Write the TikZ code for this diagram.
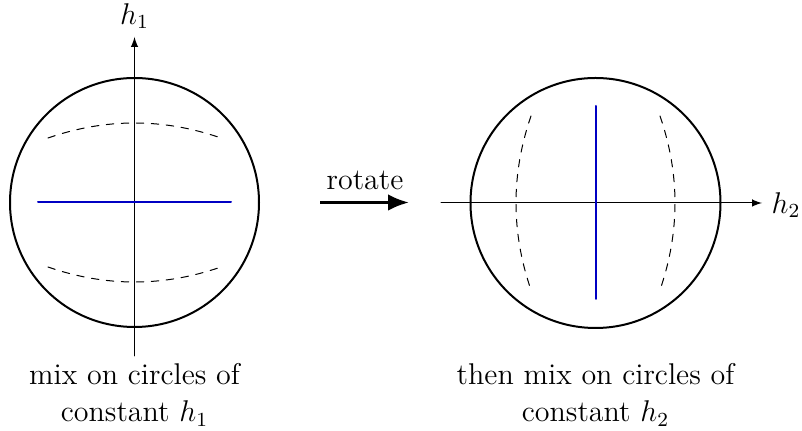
\documentclass[tikz,border=0pt]{standalone}
\usetikzlibrary{arrows.meta}
\definecolor{slicecol}{RGB}{0,0,195}
\begin{document}
\begin{tikzpicture}[x=0.4pt,y=-0.4pt,line width=.4pt,>=latex,
 line cap=round,line join=round,font=\fontsize{12}{14.8}\selectfont,
 ball/.style={line width=.8pt},
 slice/.style={line width=.8pt,draw=slicecol},
 orbit/.style={dash pattern=on 3pt off 3pt},
 caption/.style={align=center,inner sep=0pt}]
\useasboundingbox (0,0) rectangle (802,431);
% left: sphere seen along h2, slice at h1 = 0
\coordinate (L) at (134.5,202.5);
\draw[ball] (L) circle[radius=124.5];
\coordinate (h1bot) at (134.5,356);
\coordinate (h1top) at (134.5,37);
\draw[->] (h1bot) -- (h1top);
\node (h1lab) at (134.5,16) {$h_1$};
\draw[orbit] (48,138) .. controls (105.7,118) and (163.3,118) .. (221,138);
\draw[orbit] (48,267) .. controls (105.7,287) and (163.3,287) .. (221,267);
\coordinate (Lw) at (38,202.5);
\coordinate (Le) at (231,202.5);
\draw[slice] (Lw) -- (Le);
\node[caption] (Lcap) at (134.5,395) {mix on circles of\\ constant $h_1$};
% middle: rotate arrow
\coordinate (rotA) at (320,202.5);
\coordinate (rotB) at (409,202.5);
\draw[-{Latex[length=8.4pt,width=6.7pt]},line width=1.3pt,line cap=butt] (rotA) -- (rotB);
\node (rotlab) at (365,180) {rotate};
% right: sphere after rotation, slice at h2 = 0
\coordinate (R) at (595.5,203);
\draw[ball] (R) circle[radius=125];
\coordinate (h2lft) at (441,203);
\coordinate (h2rgt) at (762,203);
\draw[->] (h2lft) -- (h2rgt);
\node (h2lab) at (786,205) {$h_2$};
\draw[orbit] (531,116) .. controls (511,174) and (511,232) .. (531,290);
\draw[orbit] (660,116) .. controls (680,174) and (680,232) .. (660,290);
\coordinate (Rn) at (595.5,106);
\coordinate (Rs) at (595.5,299);
\draw[slice] (Rn) -- (Rs);
\node[caption] (Rcap) at (595.5,395) {then mix on circles of\\ constant $h_2$};
\end{tikzpicture}
\end{document}
